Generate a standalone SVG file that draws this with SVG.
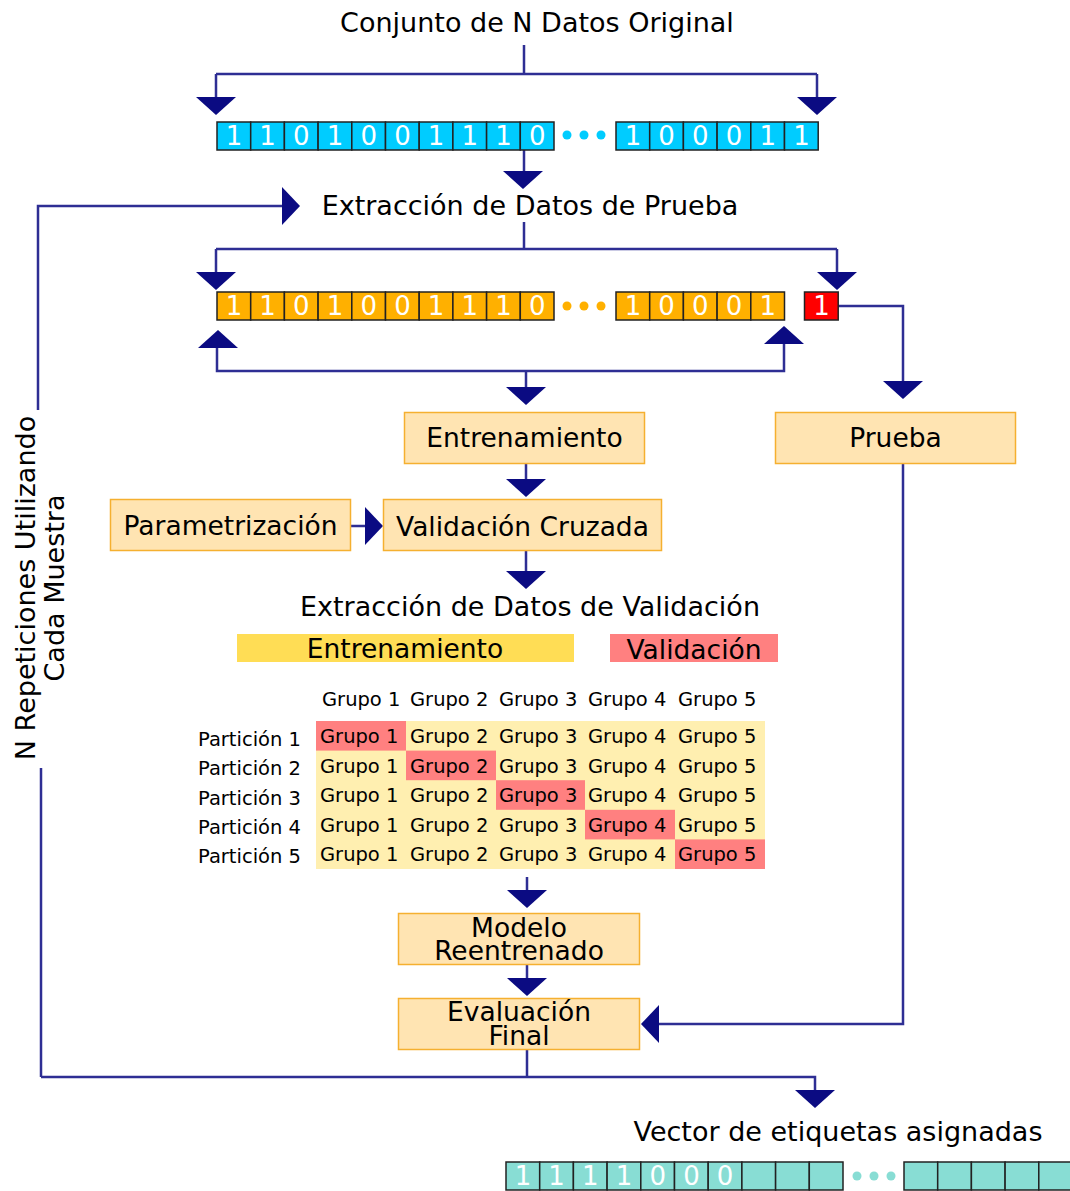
<svg xmlns="http://www.w3.org/2000/svg" xmlns:xlink="http://www.w3.org/1999/xlink" width="1070" height="1191" viewBox="0 0 1070 1191">
<style>
text{font-family:"DejaVu Sans","Verdana",sans-serif;fill:#000}
.t{font-size:26.5px}
.h{font-size:27px}
.c{text-anchor:middle}
.s{font-size:19.5px}
.d{font-size:26px;fill:#fff;text-anchor:middle}
.ln{fill:none;stroke:#2e2e94;stroke-width:2.5}
.ah{fill:#0b0b82}
.box{fill:#ffe4b2;stroke:#f5b030;stroke-width:1.5}
.cy{fill:#00ccff;stroke:#222;stroke-width:1.5}
.or{fill:#ffb000;stroke:#222;stroke-width:1.5}
.rd{fill:#ff0000;stroke:#222;stroke-width:1.5}
.tl{fill:#88ddd4;stroke:#222;stroke-width:1.5}
.ty{fill:#ffefb0}
.tr{fill:#ff8080}
</style>
<defs>
<polygon id="aD" class="ah" points="-20,0 20,0 0,18"/>
<polygon id="aU" class="ah" points="-20,0 20,0 0,-18"/>
<polygon id="aR" class="ah" points="0,-19 0,19 18,0"/>
<polygon id="aL" class="ah" points="0,-19 0,19 -18,0"/>
</defs>

<g id="connectors">
<path class="ln" d="M524,45 V74 M216,74 H817 M216,74 V97 M817,74 V97 M524,150 V171"/>
<path class="ln" d="M38,410 V206 H282"/>
<path class="ln" d="M524,222 V249 M216,249 H837 M216,249 V272 M837,249 V272"/>
<path class="ln" d="M217,348 V371 H784 V344 M526,371 V387"/>
<path class="ln" d="M838,306 H903 V381"/>
<path class="ln" d="M526,464 V479 M351,526 H365 M526,551 V571"/>
<path class="ln" d="M527,877 V890 M527,965 V978"/>
<path class="ln" d="M903,464 V1024 H659"/>
<path class="ln" d="M527,1049 V1077 M41,1077 H815 V1090 M41,768 V1077"/>
<use href="#aD" x="216" y="97"/>
<use href="#aD" x="817" y="97"/>
<use href="#aD" x="523" y="171"/>
<use href="#aR" x="282" y="206"/>
<use href="#aD" x="216" y="272"/>
<use href="#aD" x="837" y="272"/>
<use href="#aU" x="218" y="348"/>
<use href="#aU" x="784" y="344"/>
<use href="#aD" x="526" y="387"/>
<use href="#aD" x="903" y="381"/>
<use href="#aD" x="526" y="479"/>
<use href="#aR" x="365" y="526"/>
<use href="#aD" x="526" y="571"/>
<use href="#aD" x="527" y="890"/>
<use href="#aD" x="527" y="978"/>
<use href="#aL" x="659" y="1024"/>
<use href="#aD" x="815" y="1090"/>
</g>

<g id="title-original"><text class="h c" x="537" y="32">Conjunto de N Datos Original</text></g>

<g id="array-original">
<rect class="cy" x="217" y="122" width="33.7" height="28"/>
<rect class="cy" x="250.7" y="122" width="33.7" height="28"/>
<rect class="cy" x="284.4" y="122" width="33.7" height="28"/>
<rect class="cy" x="318.1" y="122" width="33.7" height="28"/>
<rect class="cy" x="351.8" y="122" width="33.7" height="28"/>
<rect class="cy" x="385.5" y="122" width="33.7" height="28"/>
<rect class="cy" x="419.2" y="122" width="33.7" height="28"/>
<rect class="cy" x="452.9" y="122" width="33.7" height="28"/>
<rect class="cy" x="486.6" y="122" width="33.7" height="28"/>
<rect class="cy" x="520.3" y="122" width="33.7" height="28"/>
<text class="d" x="233.9" y="145">1</text><text class="d" x="267.6" y="145">1</text><text class="d" x="301.3" y="145">0</text><text class="d" x="335" y="145">1</text><text class="d" x="368.7" y="145">0</text><text class="d" x="402.4" y="145">0</text><text class="d" x="436.1" y="145">1</text><text class="d" x="469.8" y="145">1</text><text class="d" x="503.5" y="145">1</text><text class="d" x="537.2" y="145">0</text>
<circle cx="567" cy="135" r="4.5" fill="#00ccff"/><circle cx="584" cy="135" r="4.5" fill="#00ccff"/><circle cx="601" cy="135" r="4.5" fill="#00ccff"/>
<rect class="cy" x="616" y="122" width="33.7" height="28"/>
<rect class="cy" x="649.7" y="122" width="33.7" height="28"/>
<rect class="cy" x="683.4" y="122" width="33.7" height="28"/>
<rect class="cy" x="717.1" y="122" width="33.7" height="28"/>
<rect class="cy" x="750.8" y="122" width="33.7" height="28"/>
<rect class="cy" x="784.5" y="122" width="33.7" height="28"/>
<text class="d" x="632.9" y="145">1</text><text class="d" x="666.6" y="145">0</text><text class="d" x="700.3" y="145">0</text><text class="d" x="734" y="145">0</text><text class="d" x="767.7" y="145">1</text><text class="d" x="801.4" y="145">1</text>
</g>

<g id="title-prueba"><text class="h c" x="530" y="215">Extracción de Datos de Prueba</text></g>

<g id="array-split">
<rect class="or" x="217" y="292" width="33.7" height="28"/>
<rect class="or" x="250.7" y="292" width="33.7" height="28"/>
<rect class="or" x="284.4" y="292" width="33.7" height="28"/>
<rect class="or" x="318.1" y="292" width="33.7" height="28"/>
<rect class="or" x="351.8" y="292" width="33.7" height="28"/>
<rect class="or" x="385.5" y="292" width="33.7" height="28"/>
<rect class="or" x="419.2" y="292" width="33.7" height="28"/>
<rect class="or" x="452.9" y="292" width="33.7" height="28"/>
<rect class="or" x="486.6" y="292" width="33.7" height="28"/>
<rect class="or" x="520.3" y="292" width="33.7" height="28"/>
<text class="d" x="233.9" y="315">1</text><text class="d" x="267.6" y="315">1</text><text class="d" x="301.3" y="315">0</text><text class="d" x="335" y="315">1</text><text class="d" x="368.7" y="315">0</text><text class="d" x="402.4" y="315">0</text><text class="d" x="436.1" y="315">1</text><text class="d" x="469.8" y="315">1</text><text class="d" x="503.5" y="315">1</text><text class="d" x="537.2" y="315">0</text>
<circle cx="567" cy="306" r="4.5" fill="#ffb000"/><circle cx="584" cy="306" r="4.5" fill="#ffb000"/><circle cx="601" cy="306" r="4.5" fill="#ffb000"/>
<rect class="or" x="616" y="292" width="33.7" height="28"/>
<rect class="or" x="649.7" y="292" width="33.7" height="28"/>
<rect class="or" x="683.4" y="292" width="33.7" height="28"/>
<rect class="or" x="717.1" y="292" width="33.7" height="28"/>
<rect class="or" x="750.8" y="292" width="33.7" height="28"/>
<text class="d" x="632.9" y="315">1</text><text class="d" x="666.6" y="315">0</text><text class="d" x="700.3" y="315">0</text><text class="d" x="734" y="315">0</text><text class="d" x="767.7" y="315">1</text>
</g>
<g id="test-sample">
<rect class="rd" x="804.5" y="292" width="33.7" height="28"/>
<text class="d" x="821.4" y="315">1</text>
</g>

<g id="n-repeticiones">
<text class="h c" transform="rotate(-90)" x="-588" y="35">N Repeticiones Utilizando</text>
<text class="h c" transform="rotate(-90)" x="-588" y="64">Cada Muestra</text>
</g>

<g id="entrenamiento"><rect class="box" x="404.5" y="412.5" width="240" height="51"/><text class="t c" x="524.5" y="447">Entrenamiento</text></g>
<g id="prueba"><rect class="box" x="775.5" y="412.5" width="240" height="51"/><text class="t c" x="895.5" y="447">Prueba</text></g>
<g id="parametrizacion"><rect class="box" x="110.5" y="499.5" width="240" height="51"/><text class="t c" x="230.5" y="535">Parametrización</text></g>
<g id="validacion-cruzada"><rect class="box" x="383.5" y="499.5" width="278" height="51"/><text class="t c" x="522.5" y="536">Validación Cruzada</text></g>

<g id="title-validacion"><text class="h c" x="530" y="616">Extracción de Datos de Validación</text></g>

<g id="legend">
<rect x="237" y="634" width="337" height="28" fill="#ffdd55"/>
<text class="t c" x="405" y="658">Entrenamiento</text>
<rect x="610" y="634" width="168" height="28" fill="#ff8080"/>
<text class="t c" x="694" y="659">Validación</text>
</g>

<g id="folds-table">
<text class="s" x="322" y="706">Grupo 1</text><text class="s" x="410" y="706">Grupo 2</text><text class="s" x="499" y="706">Grupo 3</text><text class="s" x="588" y="706">Grupo 4</text><text class="s" x="678" y="706">Grupo 5</text>
<rect class="ty" x="316" y="721" width="449" height="148"/>
<rect class="tr" x="316" y="721" width="90" height="29.6"/>
<rect class="tr" x="406" y="750.6" width="90" height="29.6"/>
<rect class="tr" x="496" y="780.2" width="89" height="29.6"/>
<rect class="tr" x="585" y="809.8" width="90" height="29.6"/>
<rect class="tr" x="675" y="839.4" width="90" height="29.6"/>
<text class="s" x="198" y="746">Partición 1</text>
<text class="s" x="198" y="775">Partición 2</text>
<text class="s" x="198" y="805">Partición 3</text>
<text class="s" x="198" y="834">Partición 4</text>
<text class="s" x="198" y="863">Partición 5</text>
<text class="s" x="320" y="743">Grupo 1</text><text class="s" x="410" y="743">Grupo 2</text><text class="s" x="499" y="743">Grupo 3</text><text class="s" x="588" y="743">Grupo 4</text><text class="s" x="678" y="743">Grupo 5</text>
<text class="s" x="320" y="773">Grupo 1</text><text class="s" x="410" y="773">Grupo 2</text><text class="s" x="499" y="773">Grupo 3</text><text class="s" x="588" y="773">Grupo 4</text><text class="s" x="678" y="773">Grupo 5</text>
<text class="s" x="320" y="802">Grupo 1</text><text class="s" x="410" y="802">Grupo 2</text><text class="s" x="499" y="802">Grupo 3</text><text class="s" x="588" y="802">Grupo 4</text><text class="s" x="678" y="802">Grupo 5</text>
<text class="s" x="320" y="832">Grupo 1</text><text class="s" x="410" y="832">Grupo 2</text><text class="s" x="499" y="832">Grupo 3</text><text class="s" x="588" y="832">Grupo 4</text><text class="s" x="678" y="832">Grupo 5</text>
<text class="s" x="320" y="861">Grupo 1</text><text class="s" x="410" y="861">Grupo 2</text><text class="s" x="499" y="861">Grupo 3</text><text class="s" x="588" y="861">Grupo 4</text><text class="s" x="678" y="861">Grupo 5</text>
</g>

<g id="modelo-reentrenado"><rect class="box" x="398.5" y="913.5" width="241" height="51"/><text class="t c" x="519" y="937">Modelo</text><text class="t c" x="519" y="960">Reentrenado</text></g>
<g id="evaluacion-final"><rect class="box" x="398.5" y="998.5" width="241" height="51"/><text class="t c" x="519" y="1021">Evaluación</text><text class="t c" x="519" y="1045">Final</text></g>

<g id="title-vector"><text class="h c" x="838" y="1141">Vector de etiquetas asignadas</text></g>

<g id="array-result">
<rect class="tl" x="506" y="1162" width="33.7" height="28"/>
<rect class="tl" x="539.7" y="1162" width="33.7" height="28"/>
<rect class="tl" x="573.4" y="1162" width="33.7" height="28"/>
<rect class="tl" x="607.1" y="1162" width="33.7" height="28"/>
<rect class="tl" x="640.8" y="1162" width="33.7" height="28"/>
<rect class="tl" x="674.5" y="1162" width="33.7" height="28"/>
<rect class="tl" x="708.2" y="1162" width="33.7" height="28"/>
<rect class="tl" x="741.9" y="1162" width="33.7" height="28"/>
<rect class="tl" x="775.6" y="1162" width="33.7" height="28"/>
<rect class="tl" x="809.3" y="1162" width="33.7" height="28"/>
<text class="d" x="522.9" y="1185">1</text><text class="d" x="556.6" y="1185">1</text><text class="d" x="590.3" y="1185">1</text><text class="d" x="624" y="1185">1</text><text class="d" x="657.7" y="1185">0</text><text class="d" x="691.4" y="1185">0</text><text class="d" x="725.1" y="1185">0</text>
<circle cx="857" cy="1176" r="4.5" fill="#88ddd4"/><circle cx="874" cy="1176" r="4.5" fill="#88ddd4"/><circle cx="891" cy="1176" r="4.5" fill="#88ddd4"/>
<rect class="tl" x="904" y="1162" width="33.7" height="28"/>
<rect class="tl" x="937.7" y="1162" width="33.7" height="28"/>
<rect class="tl" x="971.4" y="1162" width="33.7" height="28"/>
<rect class="tl" x="1005.1" y="1162" width="33.7" height="28"/>
<rect class="tl" x="1038.8" y="1162" width="33.7" height="28"/>
</g>
</svg>
